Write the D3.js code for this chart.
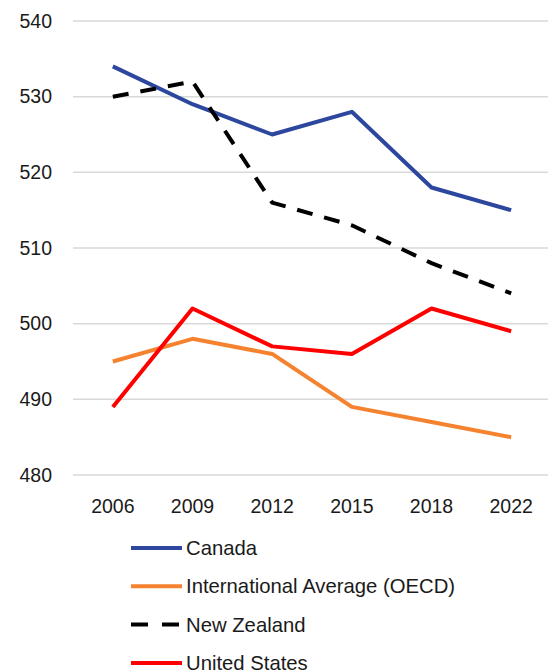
<!DOCTYPE html>
<html>
<head>
<meta charset="utf-8">
<script src="https://cdn.jsdelivr.net/npm/d3@7"></script>
<style>
  body { margin: 0; background: #fff; }
  svg { display: block; font-family: "Liberation Sans", Arial, sans-serif; }
</style>
</head>
<body>
<svg id="main" width="548" height="672"></svg>
<script>
const years = ["2006", "2009", "2012", "2015", "2018", "2022"];
const canada = [534, 529, 525, 528, 518, 515];
const oecd = [495, 498, 496, 489, 487, 485];
const newZealand = [530, 532, 516, 513, 508, 504];
const unitedStates = [489, 502, 497, 496, 502, 499];
const yTicks = [480, 490, 500, 510, 520, 530, 540];

const series = [
    {name: "Canada", values: canada, color: "#2C479D", dash: null},
    {name: "International Average (OECD)", values: oecd, color: "#F5822F", dash: null},
    {name: "New Zealand", values: newZealand, color: "#000000", dash: "16,12"},
    {name: "United States", values: unitedStates, color: "#FF0000", dash: null}
];

const size = {
    width: 548, height: 672,
    plot: {left: 73, right: 551, top: 21, bottom: 475}
};

const svg = d3.select("#main");

const xScale = d3.scaleBand(years, [size.plot.left, size.plot.right]);
const yScale = d3.scaleLinear([480, 540], [size.plot.bottom, size.plot.top]);

// gridlines
svg.append("g")
    .selectAll("line")
    .data(yTicks)
    .join("line")
    .attr("x1", size.plot.left)
    .attr("x2", size.width)
    .attr("y1", d => yScale(d))
    .attr("y2", d => yScale(d))
    .attr("stroke", "#d9d9d9")
    .attr("stroke-width", 1.5);

// y labels
svg.append("g")
    .selectAll("text")
    .data(yTicks)
    .join("text")
    .attr("x", 52)
    .attr("y", d => yScale(d))
    .attr("dy", "0.35em")
    .attr("text-anchor", "end")
    .attr("font-size", 19.5)
    .attr("fill", "#1a1a1a")
    .text(d => d);

// x labels
svg.append("g")
    .selectAll("text")
    .data(years)
    .join("text")
    .attr("x", d => xScale(d) + xScale.bandwidth() / 2)
    .attr("y", 506)
    .attr("dy", "0.35em")
    .attr("text-anchor", "middle")
    .attr("font-size", 19.5)
    .attr("fill", "#1a1a1a")
    .text(d => d);

const line = d3.line()
    .x((d, i) => xScale(years[i]) + xScale.bandwidth() / 2)
    .y(d => yScale(d));

svg.append("g")
    .selectAll("path")
    .data(series)
    .join("path")
    .attr("d", d => line(d.values))
    .attr("fill", "none")
    .attr("stroke", d => d.color)
    .attr("stroke-width", 4)
    .attr("stroke-dasharray", d => d.dash)
    .attr("stroke-linejoin", "round");

// legend
const legend = svg.append("g")
    .selectAll("g")
    .data(series)
    .join("g")
    .attr("transform", (d, i) => `translate(131, ${548 + i * 38.3})`);

legend.append("line")
    .attr("x1", 0)
    .attr("x2", 51)
    .attr("stroke", d => d.color)
    .attr("stroke-width", 4)
    .attr("stroke-dasharray", d => d.dash ? "17,14" : null);

legend.append("text")
    .attr("x", 55)
    .attr("dy", "0.35em")
    .attr("font-size", 20.3)
    .attr("fill", "#1a1a1a")
    .text(d => d.name);
</script>
</body>
</html>
